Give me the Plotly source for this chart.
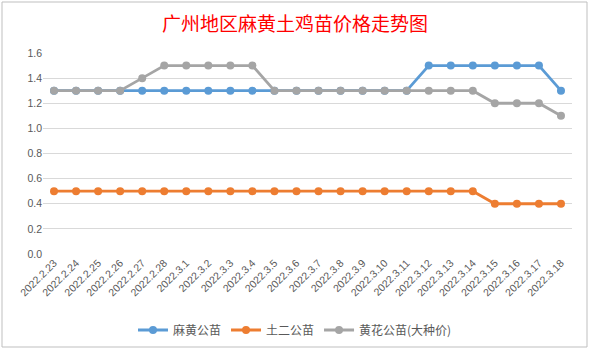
import plotly.graph_objects as go

dates = ["2022.2.23", "2022.2.24", "2022.2.25", "2022.2.26", "2022.2.27", "2022.2.28",
         "2022.3.1", "2022.3.2", "2022.3.3", "2022.3.4", "2022.3.5", "2022.3.6",
         "2022.3.7", "2022.3.8", "2022.3.9", "2022.3.10", "2022.3.11", "2022.3.12",
         "2022.3.13", "2022.3.14", "2022.3.15", "2022.3.16", "2022.3.17", "2022.3.18"]
mahuang = [1.3, 1.3, 1.3, 1.3, 1.3, 1.3, 1.3, 1.3, 1.3, 1.3, 1.3, 1.3,
           1.3, 1.3, 1.3, 1.3, 1.3, 1.5, 1.5, 1.5, 1.5, 1.5, 1.5, 1.3]
tuer = [0.5, 0.5, 0.5, 0.5, 0.5, 0.5, 0.5, 0.5, 0.5, 0.5, 0.5, 0.5,
        0.5, 0.5, 0.5, 0.5, 0.5, 0.5, 0.5, 0.5, 0.4, 0.4, 0.4, 0.4]
huanghua = [1.3, 1.3, 1.3, 1.3, 1.4, 1.5, 1.5, 1.5, 1.5, 1.5, 1.3, 1.3,
            1.3, 1.3, 1.3, 1.3, 1.3, 1.3, 1.3, 1.3, 1.2, 1.2, 1.2, 1.1]
names = ["麻黄公苗", "土二公苗", "黄花公苗(大种价)"]
colors = ["#5B9BD5", "#ED7D31", "#A5A5A5"]
yticks = [0.0, 0.2, 0.4, 0.6, 0.8, 1.0, 1.2, 1.4, 1.6]

fig = go.Figure()
for name, vals, c in zip(names, [mahuang, tuer, huanghua], colors):
    fig.add_trace(go.Scatter(x=dates, y=vals, name=name, mode="lines+markers",
                             line=dict(color=c, width=2.8),
                             marker=dict(color=c, size=8)))

font = "Noto Sans CJK SC, Microsoft YaHei, sans-serif"
fig.update_layout(
    width=590, height=352,
    margin=dict(l=43, r=18, t=53, b=98),
    paper_bgcolor="white", plot_bgcolor="white",
    font=dict(family=font, color="#595959", size=11),
    title=dict(text="广州地区麻黄土鸡苗价格走势图", x=0.5, xanchor="center",
               y=1 - 24 / 352, yanchor="middle", yref="container",
               font=dict(family=font, color="#FF0000", size=19)),
    showlegend=True,
    legend=dict(orientation="h", x=0.5, xanchor="center", xref="container",
                y=22 / 352, yref="container", yanchor="middle",
                font=dict(size=12, color="#595959"), itemwidth=30),
    xaxis=dict(type="category", tickangle=-45, showgrid=False, showline=False,
               ticks="", tickfont=dict(size=10.5, family="Liberation Sans, Arial"),
               range=[-0.5, len(dates) - 0.5]),
    yaxis=dict(range=[0, 1.6], tickvals=yticks, ticktext=[f"{v:.1f}" for v in yticks],
               showgrid=True, gridcolor="#D9D9D9", gridwidth=1, zeroline=False,
               showline=False, ticks="", tickfont=dict(size=10.5, family="Liberation Sans, Arial")),
    shapes=[dict(type="rect", xref="paper", yref="paper",
                 x0=-41 / 529, x1=(587 - 43) / 529,
                 y0=-(347 - 254) / 201, y1=(254 - 2) / 201,
                 line=dict(color="#BFBFBF", width=1))],
)
fig.write_html("out.html")
